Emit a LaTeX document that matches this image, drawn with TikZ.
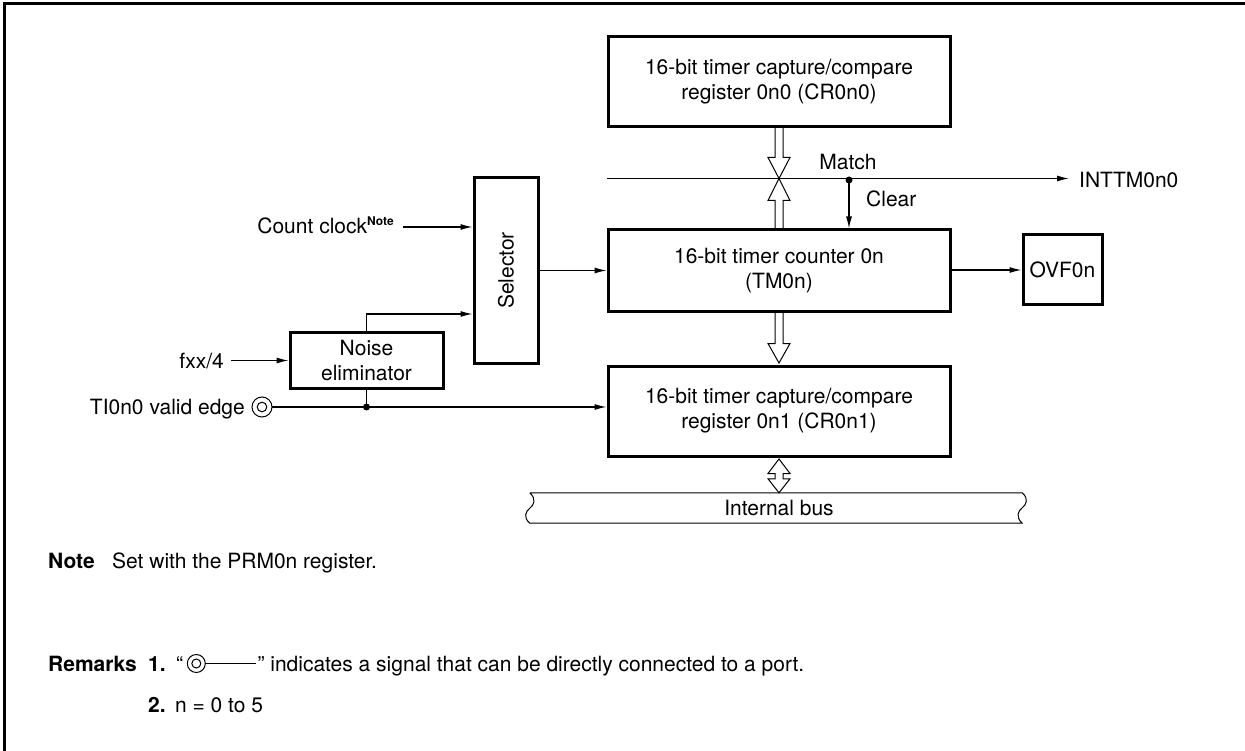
\documentclass[tikz,border=0pt]{standalone}
\usepackage{fontspec}
\setmainfont{TeX Gyre Heros}
\usetikzlibrary{arrows.meta,calc}
\begin{document}
\begin{tikzpicture}[x=1pt,y=-1pt,
  box/.style={draw,line width=3pt,inner sep=0pt,align=center},
  wire/.style={line width=1.2pt},
  sig/.style={wire,-{Latex[length=12pt,width=6pt]}},
  hollow/.style={line width=1pt},
  lbl/.style={inner sep=0pt},
  font=\fontsize{21}{25}\selectfont]
\useasboundingbox (0,0) rectangle (1245,751);
\draw[line width=3pt] (4,751) -- (4,4) -- (1245,4);

% boxes
\node[box,minimum width=342,minimum height=90] (cr0) at (779,82) {16-bit timer capture/compare\\register 0n0 (CR0n0)};
\node[box,minimum width=342,minimum height=82] (tm) at (779,271) {16-bit timer counter 0n\\(TM0n)};
\node[box,minimum width=342,minimum height=90] (cr1) at (779,411) {16-bit timer capture/compare\\register 0n1 (CR0n1)};
\node[box,minimum width=79,minimum height=70] (ovf) at (1062.5,270) {OVF0n};
\node[box,minimum width=64,minimum height=185] (sel) at (506,270.5) {};
\node[lbl,rotate=90] (selt) at (sel.center) {Selector};
\node[box,minimum width=153,minimum height=55] (noise) at (366.5,360.5) {Noise\\eliminator};
\node[inner sep=0pt,minimum width=492,minimum height=30] (bus) at (776,508) {\hspace*{6pt}Internal bus};

% labels
\node[lbl,anchor=base east] (cc) at (394,234) {Count clock\raisebox{8pt}{\fontsize{12}{12}\selectfont\bfseries Note}};
\node[lbl,anchor=base east] (fx) at (224,368) {fxx/4};
\node[lbl,anchor=base east] (ti) at (245,414.5) {TI0n0 valid edge};
\node[lbl,anchor=base] (match) at (848,170) {Match};
\node[lbl,anchor=base west] (clear) at (866,207) {Clear};
\node[lbl,anchor=base west] (int) at (1079,187.5) {INTTM0n0};

% inputs
\coordinate (cc1) at (403,227);
\draw[sig] (cc1) -- (cc1 -| sel.west);
\coordinate (fx1) at (231,360.5);
\draw[sig] (fx1) -- (noise.west);
\path (sel.west) ++(0,43.5) coordinate (selin2);
\draw[sig] (noise.north) |- (selin2);
\coordinate (tic) at (262,407);
\draw[line width=1pt] (tic) circle (10) (tic) circle (4.8);
\draw[sig] ($(tic)+(10,0)$) -- (cr1.west |- tic);
\coordinate (tid) at (noise.south |- tic);
\draw[wire] (noise.south) -- (tid);
\fill (tid) circle (3.5);
\draw[sig] (sel.east) -- (sel.east -| tm.west);
\draw[sig] (tm.east |- ovf.west) -- (ovf.west);

% match / clear
\path (tm.north west) ++(0,-50) coordinate (m0);
\draw[sig,shorten >=10pt] (m0) -- (m0 -| int.west);
\coordinate (md) at (849,180);
\fill (md) circle (3.5);
\draw[sig] (md) -- (md |- tm.north);

% hollow bus arrows
\coordinate (mx) at (tm.north |- m0);
\draw[hollow] ($(mx)+(-4,-53)$) -- ($(mx)+(-4,-21)$) -- ($(mx)+(-11,-21)$) -- (mx) -- ($(mx)+(11,-21)$) -- ($(mx)+(4,-21)$) -- ($(mx)+(4,-53)$);
\draw[hollow] ($(mx)+(-4,50)$) -- ($(mx)+(-4,22)$) -- ($(mx)+(-11,22)$) -- (mx) -- ($(mx)+(11,22)$) -- ($(mx)+(4,22)$) -- ($(mx)+(4,50)$);
\draw[hollow] ($(cr1.north)+(-4,-54)$) -- ($(cr1.north)+(-4,-21)$) -- ($(cr1.north)+(-11,-21)$) -- ($(cr1.north)+(0,-1.5)$) -- ($(cr1.north)+(11,-21)$) -- ($(cr1.north)+(4,-21)$) -- ($(cr1.north)+(4,-54)$);
\coordinate (bt) at (cr1.south |- bus.north);
\draw[hollow] ($(cr1.south)+(0,1.5)$) -- ($(cr1.south)+(11,16)$) -- ($(cr1.south)+(4,16)$) -- ($(bt)+(4,-14)$) -- ($(bt)+(11,-14)$) -- (bt) -- ($(bt)+(-11,-14)$) -- ($(bt)+(-4,-14)$) -- ($(cr1.south)+(-4,16)$) -- ($(cr1.south)+(-11,16)$) -- cycle;

% internal bus outline
\draw[line width=1pt] (bus.north west) -- (bus.north east)
  .. controls ($(bus.north east)+(7,6)$) and ($(bus.north east)+(4,12)$) .. ($(bus.north east)+(0,15)$)
  .. controls ($(bus.north east)+(-4,18)$) and ($(bus.north east)+(-7,24)$) .. (bus.south east)
  -- (bus.south west)
  .. controls ($(bus.south west)+(-7,-6)$) and ($(bus.south west)+(-4,-12)$) .. ($(bus.south west)+(0,-15)$)
  .. controls ($(bus.south west)+(4,-18)$) and ($(bus.south west)+(7,-24)$) .. (bus.north west);

% notes
\node[lbl,anchor=base west,font=\fontsize{21}{25}\selectfont\bfseries] (note) at (48,568) {Note};
\node[lbl,anchor=base west] (notet) at (112,568) {Set with the PRM0n register.};
\node[lbl,anchor=base west,font=\fontsize{21}{25}\selectfont\bfseries] (rem) at (48,671) {Remarks};
\node[lbl,anchor=base west,font=\fontsize{21}{25}\selectfont\bfseries] (r1) at (148,671) {1.};
\node[lbl,anchor=base west] (q1) at ($(r1.base east)+(10,0)$) {“};
\coordinate (rc) at ($(q1.base east)+(13,-7.5)$);
\draw[line width=1pt] (rc) circle (9) (rc) circle (4.5);
\draw[line width=1pt] ($(rc)+(9,0)$) -- ($(rc)+(60,0)$);
\node[lbl,anchor=base west] (q2) at ($(rc)+(61,7.5)$) {” indicates a signal that can be directly connected to a port.};
\node[lbl,anchor=base west,font=\fontsize{21}{25}\selectfont\bfseries] (r2) at (148,712) {2.};
\node[lbl,anchor=base west] (r2t) at ($(r2.base east)+(9,0)$) {n = 0 to 5};
\end{tikzpicture}
\end{document}
